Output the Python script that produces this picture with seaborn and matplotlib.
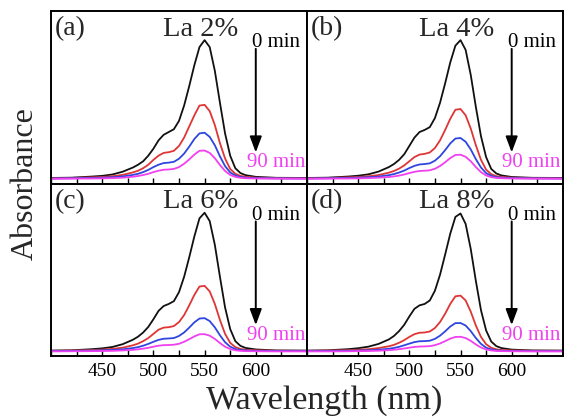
import matplotlib
matplotlib.use("Agg")
import matplotlib.pyplot as plt
from matplotlib.ticker import MultipleLocator
import numpy as np
import pandas as pd
import seaborn as sns

# Wavelength grid (nm)
wavelength = [400, 420, 440, 450, 460, 470, 480, 485, 490, 495, 500, 505, 510, 515,
              520, 525, 530, 535, 540, 545, 550, 555, 560, 565, 570, 575, 580, 585,
              590, 600, 620, 650]

# (a) La 2%
a_0 = [0.010, 0.012, 0.020, 0.025, 0.035, 0.055, 0.085, 0.105, 0.13, 0.17, 0.22, 0.28, 0.32, 0.34,
       0.36, 0.42, 0.53, 0.67, 0.82, 0.95, 1.00, 0.95, 0.78, 0.55, 0.33, 0.17, 0.08, 0.045,
       0.03, 0.018, 0.011, 0.010]
a_1 = [0.008, 0.010, 0.014, 0.017, 0.022, 0.032, 0.050, 0.062, 0.08, 0.105, 0.14, 0.17, 0.19, 0.195,
       0.205, 0.24, 0.30, 0.38, 0.46, 0.53, 0.535, 0.49, 0.39, 0.26, 0.15, 0.075, 0.04, 0.025,
       0.018, 0.012, 0.009, 0.008]
a_2 = [0.006, 0.008, 0.010, 0.012, 0.015, 0.021, 0.032, 0.040, 0.052, 0.068, 0.088, 0.105, 0.117, 0.12,
       0.126, 0.148, 0.185, 0.235, 0.29, 0.33, 0.335, 0.305, 0.245, 0.165, 0.095, 0.05, 0.027, 0.017,
       0.012, 0.009, 0.007, 0.006]
a_3 = [0.004, 0.005, 0.006, 0.007, 0.009, 0.012, 0.019, 0.024, 0.031, 0.040, 0.052, 0.062, 0.069, 0.071,
       0.075, 0.088, 0.112, 0.143, 0.178, 0.205, 0.207, 0.19, 0.152, 0.103, 0.06, 0.032, 0.018, 0.011,
       0.008, 0.006, 0.005, 0.004]

# (b) La 4%
b_0 = [0.010, 0.012, 0.020, 0.026, 0.036, 0.056, 0.088, 0.11, 0.14, 0.18, 0.24, 0.30, 0.34, 0.355,
       0.375, 0.44, 0.55, 0.69, 0.84, 0.96, 1.00, 0.93, 0.75, 0.52, 0.31, 0.16, 0.075, 0.042,
       0.028, 0.017, 0.011, 0.010]
b_1 = [0.008, 0.010, 0.014, 0.017, 0.022, 0.031, 0.048, 0.060, 0.077, 0.10, 0.13, 0.16, 0.178, 0.183,
       0.193, 0.225, 0.28, 0.355, 0.435, 0.50, 0.505, 0.46, 0.365, 0.245, 0.14, 0.07, 0.037, 0.023,
       0.017, 0.012, 0.009, 0.008]
b_2 = [0.006, 0.008, 0.010, 0.012, 0.015, 0.020, 0.030, 0.038, 0.049, 0.063, 0.081, 0.097, 0.107, 0.11,
       0.115, 0.134, 0.166, 0.21, 0.258, 0.293, 0.297, 0.27, 0.215, 0.145, 0.085, 0.045, 0.025, 0.016,
       0.012, 0.009, 0.007, 0.006]
b_3 = [0.004, 0.005, 0.006, 0.007, 0.009, 0.012, 0.017, 0.021, 0.027, 0.035, 0.045, 0.054, 0.06, 0.062,
       0.065, 0.076, 0.096, 0.123, 0.153, 0.175, 0.177, 0.162, 0.13, 0.088, 0.052, 0.028, 0.016, 0.010,
       0.008, 0.006, 0.005, 0.004]

# (c) La 6%
c_0 = [0.010, 0.012, 0.020, 0.026, 0.036, 0.056, 0.088, 0.11, 0.14, 0.18, 0.235, 0.295, 0.33, 0.345,
       0.365, 0.43, 0.54, 0.68, 0.83, 0.96, 1.00, 0.94, 0.77, 0.54, 0.32, 0.165, 0.078, 0.044,
       0.029, 0.018, 0.011, 0.010]
c_1 = [0.008, 0.010, 0.014, 0.017, 0.022, 0.031, 0.048, 0.060, 0.078, 0.10, 0.13, 0.16, 0.175, 0.178,
       0.186, 0.215, 0.265, 0.335, 0.41, 0.47, 0.475, 0.435, 0.345, 0.23, 0.13, 0.066, 0.035, 0.022,
       0.016, 0.012, 0.009, 0.008]
c_2 = [0.006, 0.008, 0.010, 0.012, 0.014, 0.019, 0.028, 0.035, 0.045, 0.058, 0.073, 0.087, 0.095, 0.097,
       0.10, 0.115, 0.14, 0.175, 0.213, 0.24, 0.243, 0.222, 0.177, 0.12, 0.07, 0.038, 0.021, 0.014,
       0.011, 0.008, 0.007, 0.006]
c_3 = [0.004, 0.005, 0.006, 0.007, 0.008, 0.011, 0.015, 0.019, 0.024, 0.030, 0.038, 0.045, 0.049, 0.05,
       0.052, 0.059, 0.073, 0.092, 0.112, 0.127, 0.128, 0.117, 0.094, 0.064, 0.038, 0.021, 0.012, 0.008,
       0.006, 0.005, 0.004, 0.004]

# (d) La 8%
d_0 = [0.010, 0.012, 0.020, 0.027, 0.038, 0.058, 0.09, 0.115, 0.15, 0.195, 0.255, 0.31, 0.335, 0.345,
       0.37, 0.44, 0.555, 0.70, 0.85, 0.97, 0.995, 0.92, 0.74, 0.51, 0.30, 0.155, 0.075, 0.042,
       0.028, 0.017, 0.011, 0.010]
d_1 = [0.008, 0.010, 0.013, 0.016, 0.020, 0.028, 0.041, 0.051, 0.066, 0.085, 0.108, 0.128, 0.138, 0.14,
       0.147, 0.172, 0.215, 0.275, 0.345, 0.40, 0.405, 0.37, 0.29, 0.19, 0.108, 0.056, 0.03, 0.019,
       0.014, 0.011, 0.009, 0.008]
d_2 = [0.006, 0.007, 0.009, 0.010, 0.012, 0.016, 0.023, 0.029, 0.037, 0.048, 0.060, 0.071, 0.077, 0.078,
       0.081, 0.094, 0.117, 0.148, 0.183, 0.207, 0.208, 0.19, 0.15, 0.10, 0.058, 0.031, 0.018, 0.012,
       0.009, 0.007, 0.006, 0.006]
d_3 = [0.004, 0.004, 0.005, 0.006, 0.007, 0.009, 0.013, 0.016, 0.020, 0.025, 0.031, 0.036, 0.039, 0.04,
       0.042, 0.049, 0.061, 0.078, 0.096, 0.108, 0.109, 0.10, 0.08, 0.054, 0.032, 0.018, 0.011, 0.007,
       0.006, 0.005, 0.004, 0.004]

panel_tags = ["(a)", "(b)", "(c)", "(d)"]
panel_titles = ["La 2%", "La 4%", "La 6%", "La 8%"]
panel_series = [[a_0, a_1, a_2, a_3], [b_0, b_1, b_2, b_3],
                [c_0, c_1, c_2, c_3], [d_0, d_1, d_2, d_3]]
times = ["0 min", "30 min", "60 min", "90 min"]
colors = ["#111111", "#e03535", "#2f45e0", "#f040f0"]
xticks_major = [450, 500, 550, 600]

sns.set_theme(style="ticks")
plt.rcParams["font.family"] = ["Liberation Serif", "DejaVu Serif"]
plt.rcParams["axes.linewidth"] = 1.4

fig, axes = plt.subplots(2, 2, figsize=(5.64, 4.19), dpi=100, sharex=True, sharey=True)
fig.subplots_adjust(left=0.0905, right=0.998, top=0.974, bottom=0.150, wspace=0, hspace=0)

for ax, tag, title, series in zip(axes.flat, panel_tags, panel_titles, panel_series):
    frames = [pd.DataFrame({"wavelength": wavelength, "absorbance": s, "time": t})
              for s, t in zip(series, times)]
    df = pd.concat(frames, ignore_index=True)
    sns.lineplot(data=df, x="wavelength", y="absorbance", hue="time",
                 palette=dict(zip(times, colors)), legend=False, sort=False,
                 linewidth=1.3, ax=ax)
    ax.set_xlim(400, 650)
    ax.set_ylim(-0.03, 1.21)
    ax.set_xlabel("")
    ax.set_ylabel("")
    ax.set_yticks([])
    ax.xaxis.set_major_locator(plt.FixedLocator(xticks_major))
    ax.xaxis.set_minor_locator(MultipleLocator(25))
    ax.tick_params(axis="x", which="both", direction="in", length=4, width=1.0,
                   labelsize=14, pad=5, color="black", labelcolor="black")
    for sp in ax.spines.values():
        sp.set_visible(True)
        sp.set_color("black")

    ax.text(0.015, 0.895, tag, transform=ax.transAxes, fontsize=20, ha="left", va="center")
    ax.text(0.585, 0.895, title, transform=ax.transAxes, fontsize=20.5, ha="center", va="center")
    ax.text(0.785, 0.815, times[0], transform=ax.transAxes, fontsize=15,
            ha="left", va="center", color="black")
    ax.text(0.764, 0.122, times[-1], transform=ax.transAxes, fontsize=15,
            ha="left", va="center", color="#f040f0")
    ax.annotate("", xy=(0.800, 0.18), xytext=(0.800, 0.78),
                xycoords="axes fraction", textcoords="axes fraction",
                arrowprops=dict(arrowstyle="-|>,head_length=0.8,head_width=0.3",
                                color="black", lw=1.4, shrinkA=0, shrinkB=0))

fig.text(0.045, 0.563, "Absorbance", rotation=90, ha="center", va="center", fontsize=23)
fig.text(0.575, 0.045, "Wavelength (nm)", ha="center", va="center", fontsize=24.5)

fig.savefig("out.png", dpi=100)
